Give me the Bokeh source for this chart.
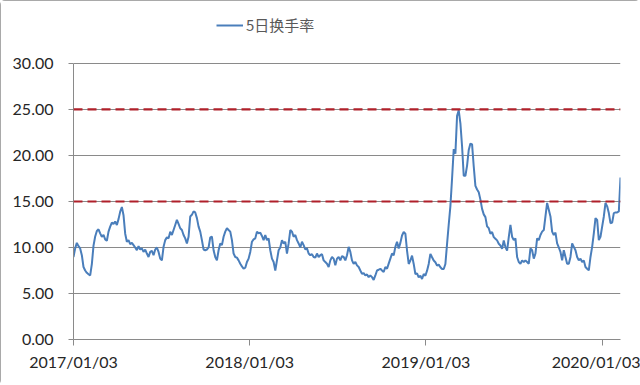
import pandas as pd
from bokeh.plotting import figure
from bokeh.models import (Range1d, FixedTicker, DatetimeTickFormatter,
                          PrintfTickFormatter, Span, Legend, LegendItem)
from bokeh.embed import file_html
from bokeh.resources import INLINE

series_name = "5日换手率"
start_date = "2017-01-03"
end_date = "2020-02-10"

turnover_part1 = [8.97, 9.9, 10.5, 10.15, 9.9, 9.16, 7.88, 7.5, 7.25, 7.1, 6.96, 8.2,
                  10.2, 11.2, 11.8, 11.98, 11.54, 11.17, 11.36, 10.88, 10.73, 11.72,
                  12.27, 12.7, 12.56, 12.82, 12.45, 13.08, 13.9, 14.4, 13.5, 11.5, 10.62,
                  10.8, 10.37, 10.51, 10.26, 10.0, 9.7, 10.15, 9.78, 9.9, 9.52, 9.78, 9.34,
                  8.97, 9.52, 9.63, 9.16, 9.78, 10.0, 9.52, 8.79, 8.6, 10.07, 10.8, 11.1,
                  10.99, 11.72, 11.36, 11.9, 12.45, 13.0, 12.56]
turnover_part2 = [12.09, 11.9, 11.36, 10.99, 10.44, 11.17, 13.37, 13.55, 13.92, 13.81,
                  13.19, 12.27, 11.72, 10.8, 9.78, 9.7, 9.78, 10.0, 11.1, 11.17, 9.7, 8.97,
                  8.6, 9.7, 10.44, 10.26, 11.17, 11.72, 12.09, 11.9, 11.72, 10.8, 9.34,
                  8.97, 8.9, 8.6, 8.24, 7.95, 7.69, 7.8, 8.42, 8.79, 9.52, 10.62, 10.88,
                  10.99, 11.72, 11.54, 11.61, 11.25, 10.8, 11.36, 10.8, 10.99, 9.7, 8.79,
                  8.42, 7.5, 8.6, 9.7, 10.0, 10.8, 10.44, 10.62, 9.34, 10.44]
turnover_part3 = [11.9, 11.72, 11.17, 11.36, 10.8, 10.44, 10.0, 10.62, 10.26, 9.78, 9.9,
                  9.34, 9.16, 9.27, 8.97, 8.9, 9.34, 8.97, 9.16, 9.27, 8.6, 8.42, 8.24,
                  7.88, 8.6, 8.97, 8.79, 8.06, 8.79, 8.97, 8.6, 9.05, 8.97, 8.6, 9.16,
                  10.07, 9.52, 8.6, 8.24, 8.42, 8.06, 7.88, 7.5, 7.14, 7.22, 6.96, 7.07,
                  6.78, 6.96, 6.78, 6.48, 6.96, 7.5, 7.58, 7.69, 7.5, 7.33, 7.88, 7.69,
                  8.24, 8.79, 9.34, 9.16, 10.07, 10.62, 9.9]
turnover_part4 = [10.5, 11.3, 11.68, 11.5, 9.67, 8.21, 8.58, 9.12, 8.21, 7.12, 7.19, 6.75,
                  6.93, 6.57, 7.12, 6.93, 7.48, 8.21, 9.31, 8.94, 8.58, 8.39, 8.03, 8.14,
                  7.85, 7.66, 7.66, 8.21, 10.4, 12.5, 14.5, 17.5, 20.7, 20.2, 24.3, 24.9,
                  23.5, 21.0, 17.8, 17.8, 18.9, 20.6, 21.3, 21.2, 18.8, 16.7, 16.3, 16.0,
                  15.2, 14.2, 13.6, 13.3, 12.3, 12.1, 11.5, 11.68, 11.13, 10.95, 10.77,
                  10.4, 10.22, 9.85, 10.77, 10.04, 9.67, 11.13]
turnover_part5 = [12.45, 11.17, 10.8, 10.99, 8.97, 8.42, 8.24, 8.6, 8.42, 8.6, 8.42, 8.24,
                  9.9, 9.7, 8.79, 9.34, 10.99, 10.8, 11.36, 11.72, 11.9, 13.37, 14.84,
                  14.1, 13.37, 11.72, 11.36, 11.61, 10.44, 10.0, 9.52, 8.6, 9.7, 8.97,
                  8.24, 8.24, 8.97, 10.44, 10.07, 9.7, 8.97, 8.6, 8.79, 8.42, 8.6, 7.88,
                  7.69, 7.51, 8.97, 10.07, 11.54, 13.19, 13.0, 10.8, 11.17, 12.27, 13.37,
                  14.84, 14.47, 13.74, 12.64, 12.71, 13.74, 13.81, 13.81, 13.92, 17.6]

x_tick_labels = ["2017/01/03", "2018/01/03", "2019/01/03", "2020/01/03"]
y_ticks = [0, 5, 10, 15, 20, 25, 30]
threshold_levels = [25.0, 15.0]

values = turnover_part1 + turnover_part2 + turnover_part3 + turnover_part4 + turnover_part5
dates = pd.date_range(start_date, end_date, periods=len(values))

TICK_FONT = "Lato"
TEXT_COLOR = "#262626"
GRID_COLOR = "#8a8a8a"

# frame runs from the top of the figure (room for the legend) down to the x axis;
# the y axis itself is bounded to 0..30 as in the reference
Y_TOP = 36.3

p = figure(width=640, height=385, output_backend="svg", toolbar_location=None,
           x_axis_type="datetime",
           x_range=Range1d(dates[0], dates[-1]), y_range=Range1d(0, Y_TOP),
           min_border_left=73, min_border_right=20, min_border_top=5,
           min_border_bottom=46)
p.outline_line_color = None
p.background_fill_color = "white"
p.border_fill_color = "white"
p.styles = {"outline": "2px solid #8c8c8c", "outline-offset": "-2px",
            "border-radius": "5px"}

line = p.line(dates, values, line_color="#4a7ebb", line_width=2)

for lvl in threshold_levels:
    p.add_layout(Span(location=lvl, dimension="width", line_color="#b0202a",
                      line_width=2.2, line_dash="9 5"))

# grids
p.xgrid.grid_line_color = None
p.ygrid.grid_line_color = GRID_COLOR
p.ygrid.grid_line_width = 1

# x axis
tick_ms = [pd.Timestamp(pd.to_datetime(t, format="%Y/%m/%d")).value // 10**6 for t in x_tick_labels]
p.xaxis.ticker = FixedTicker(ticks=tick_ms, minor_ticks=[])
fmt = "%Y/%m/%d"
p.xaxis.formatter = DatetimeTickFormatter(years=fmt, months=fmt, days=fmt, hours=fmt,
                                          minutes=fmt, seconds=fmt, milliseconds=fmt,
                                          microseconds=fmt, minsec=fmt, hourmin=fmt)
p.xaxis.major_tick_out = 6
p.xaxis.major_tick_in = 0
p.xaxis.minor_tick_out = 0
p.xaxis.minor_tick_in = 0
p.xaxis.major_label_standoff = 6

# y axis
p.yaxis.ticker = FixedTicker(ticks=y_ticks, minor_ticks=[])
p.yaxis.formatter = PrintfTickFormatter(format="%.2f")
p.yaxis.bounds = (y_ticks[0], y_ticks[-1])
p.yaxis.major_tick_out = 5
p.yaxis.major_tick_in = 0
p.yaxis.minor_tick_out = 0
p.yaxis.minor_tick_in = 0
p.yaxis.major_label_standoff = 15

for ax in (p.xaxis, p.yaxis):
    ax.axis_line_color = GRID_COLOR
    ax.major_tick_line_color = GRID_COLOR
    ax.major_label_text_font = TICK_FONT
    ax.major_label_text_font_size = "16px"
    ax.major_label_text_color = TEXT_COLOR

legend = Legend(items=[LegendItem(label=series_name, renderers=[line])],
                location=(143, 304), orientation="horizontal",
                padding=0, margin=0, spacing=0,
                border_line_alpha=0, background_fill_alpha=0,
                glyph_width=27, glyph_height=20, label_height=20,
                label_standoff=3, label_text_font="Noto Sans CJK SC",
                label_text_font_size="15px", label_text_color="#595959")
p.add_layout(legend)

open("out.html", "w").write(file_html(p, INLINE))
